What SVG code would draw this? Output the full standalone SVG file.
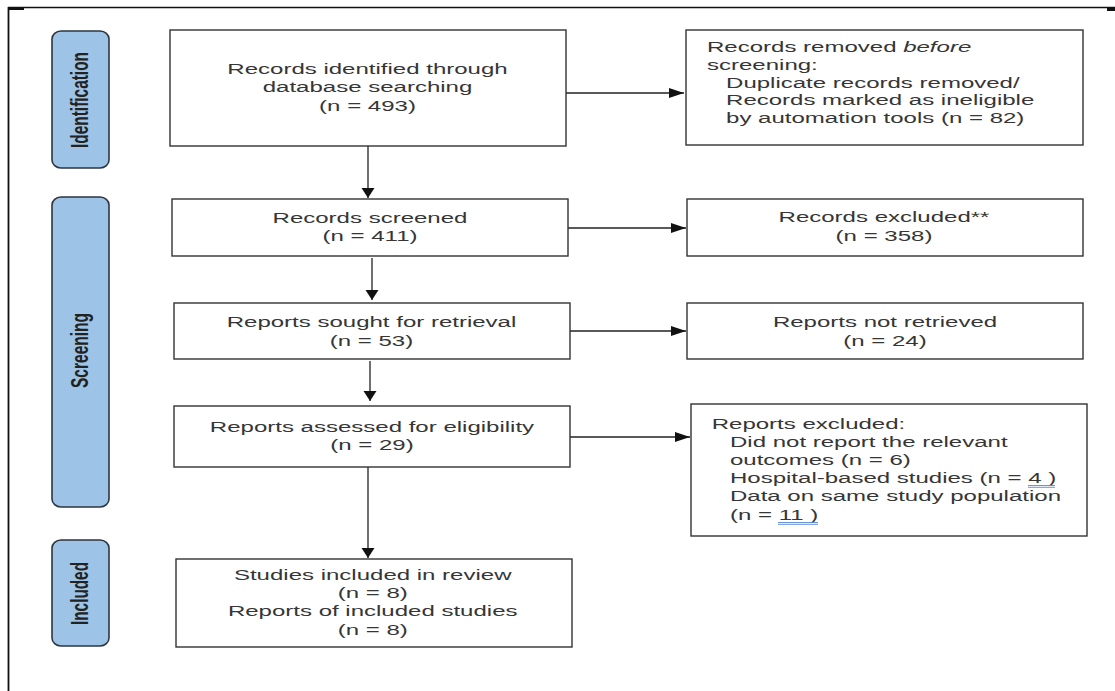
<svg xmlns="http://www.w3.org/2000/svg" width="1115" height="691" viewBox="0 0 1115 691">
<style>
.box{fill:#fff;stroke:#333;stroke-width:1.4}
.pill{fill:#9dc3e6;stroke:#2e3640;stroke-width:1.6}
.t{font-family:"Liberation Sans",Arial,sans-serif;font-size:15.5px;fill:#363636}
.c{text-anchor:middle}
.lab{font-family:"Liberation Sans",Arial,sans-serif;font-size:15px;font-weight:bold;fill:#222;text-anchor:middle}
.ln{stroke:#222;stroke-width:1.3;fill:none}
.ul{stroke:#5a88d6;stroke-width:0.9}
</style>
<defs>
<marker id="arrH" markerUnits="userSpaceOnUse" markerWidth="16" markerHeight="11" refX="15" refY="5" orient="auto"><path d="M0,0 L15,5 L0,10 z" fill="#111"/></marker>
<marker id="arrV" markerUnits="userSpaceOnUse" markerWidth="11" markerHeight="14" refX="10" refY="6.5" orient="auto"><path d="M0,0 L10,6.5 L0,13 z" fill="#111"/></marker>
</defs>
<rect width="1115" height="691" fill="#fff"/>
<g id="frame">
<line x1="8" y1="7.5" x2="1115" y2="7.5" stroke="#111" stroke-width="1.6"/>
<line x1="8.5" y1="7" x2="8.5" y2="691" stroke="#111" stroke-width="1.8"/>
<rect x="8" y="7" width="16" height="3" fill="#111"/>
<rect x="1107" y="7" width="8" height="4" fill="#111"/>
</g>
<g id="phase-identification">
<rect class="pill" x="52" y="31" width="57" height="137" rx="9" ry="8"/>
<text class="lab" transform="translate(87.5,100) scale(1.55,1) rotate(-90)" x="0" y="0" textLength="96" lengthAdjust="spacingAndGlyphs">Identification</text>
</g>
<g id="phase-screening">
<rect class="pill" x="52" y="197" width="57" height="310" rx="9" ry="8"/>
<text class="lab" transform="translate(87.5,350.5) scale(1.55,1) rotate(-90)" x="0" y="0" textLength="75" lengthAdjust="spacingAndGlyphs">Screening</text>
</g>
<g id="phase-included">
<rect class="pill" x="52" y="540" width="57" height="106" rx="9" ry="8"/>
<text class="lab" transform="translate(87.5,593.5) scale(1.55,1) rotate(-90)" x="0" y="0" textLength="63" lengthAdjust="spacingAndGlyphs">Included</text>
</g>
<g id="connectors">
<line class="ln" x1="368" y1="146" x2="368" y2="198" marker-end="url(#arrV)"/>
<line class="ln" x1="372" y1="258" x2="372" y2="300" marker-end="url(#arrV)"/>
<line class="ln" x1="370" y1="361" x2="370" y2="401" marker-end="url(#arrV)"/>
<line class="ln" x1="368" y1="467" x2="368" y2="558" marker-end="url(#arrV)"/>
<line class="ln" x1="566" y1="93" x2="684" y2="93" marker-end="url(#arrH)"/>
<line class="ln" x1="568" y1="228" x2="686" y2="228" marker-end="url(#arrH)"/>
<line class="ln" x1="570" y1="331" x2="686" y2="331" marker-end="url(#arrH)"/>
<line class="ln" x1="570" y1="437" x2="690" y2="437" marker-end="url(#arrH)"/>
</g>
<g id="records-identified">
<rect class="box" x="170" y="30" width="396" height="116"/>
<g class="t c" transform="translate(367.5,0) scale(1.55,1)">
<text x="0" y="74">Records identified through</text>
<text x="0" y="92.5">database searching</text>
<text x="0" y="111">(n = 493)</text>
</g>
</g>
<g id="records-removed">
<rect class="box" x="686" y="30" width="397" height="115"/>
<g class="t" transform="translate(707,0) scale(1.55,1)">
<text x="0" y="52">Records removed <tspan font-style="italic">before</tspan></text>
<text x="0" y="69.8">screening:</text>
<text x="12.3" y="87.6">Duplicate records removed/</text>
<text x="12.3" y="105.4">Records marked as ineligible</text>
<text x="12.3" y="123.2">by automation tools (n = 82)</text>
</g>
</g>
<g id="records-screened">
<rect class="box" x="172" y="199" width="396" height="57"/>
<g class="t c" transform="translate(370,0) scale(1.55,1)">
<text x="0" y="223">Records screened</text>
<text x="0" y="241.5">(n = 411)</text>
</g>
</g>
<g id="records-excluded">
<rect class="box" x="687" y="199" width="396" height="57"/>
<g class="t c" transform="translate(884,0) scale(1.55,1)">
<text x="0" y="222">Records excluded**</text>
<text x="0" y="241">(n = 358)</text>
</g>
</g>
<g id="reports-sought">
<rect class="box" x="174" y="303" width="396" height="56"/>
<g class="t c" transform="translate(371.5,0) scale(1.55,1)">
<text x="0" y="327">Reports sought for retrieval</text>
<text x="0" y="346">(n = 53)</text>
</g>
</g>
<g id="reports-not-retrieved">
<rect class="box" x="687" y="303" width="396" height="56"/>
<g class="t c" transform="translate(885,0) scale(1.55,1)">
<text x="0" y="327">Reports not retrieved</text>
<text x="0" y="346">(n = 24)</text>
</g>
</g>
<g id="reports-assessed">
<rect class="box" x="174" y="406" width="396" height="61"/>
<g class="t c" transform="translate(372,0) scale(1.55,1)">
<text x="0" y="432">Reports assessed for eligibility</text>
<text x="0" y="450.5">(n = 29)</text>
</g>
</g>
<g id="reports-excluded">
<rect class="box" x="691" y="404" width="396" height="132"/>
<g class="t" transform="translate(711.7,0) scale(1.55,1)">
<text x="0" y="429.3">Reports excluded:</text>
<text x="11.8" y="447.3">Did not report the relevant</text>
<text x="11.8" y="465.3">outcomes (n = 6)</text>
<text x="11.8" y="483.3">Hospital-based studies (n = 4 )</text>
<text x="11.8" y="501.5">Data on same study population</text>
<text x="11.8" y="519.7">(n = 11 )</text>
</g>
<line class="ul" x1="1028" y1="485.5" x2="1055" y2="485.5"/>
<line class="ul" x1="1028" y1="487.3" x2="1055" y2="487.3"/>
<line class="ul" x1="778" y1="522.5" x2="818" y2="522.5"/>
<line class="ul" x1="778" y1="524.3" x2="818" y2="524.3"/>
</g>
<g id="studies-included">
<rect class="box" x="176" y="559" width="396" height="88"/>
<g class="t c" transform="translate(372.7,0) scale(1.55,1)">
<text x="0" y="580">Studies included in review</text>
<text x="0" y="598.3">(n = 8)</text>
<text x="0" y="616.5">Reports of included studies</text>
<text x="0" y="635">(n = 8)</text>
</g>
</g>
</svg>
